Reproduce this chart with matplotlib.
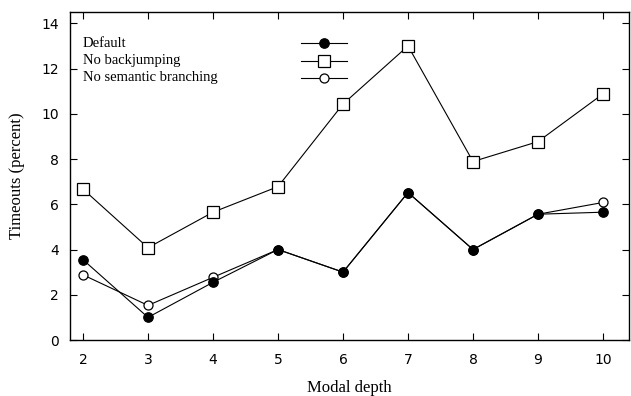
import matplotlib
matplotlib.use("Agg")
import matplotlib.pyplot as plt

depth = [2, 3, 4, 5, 6, 7, 8, 9, 10]
default = [3.55, 1.0, 2.55, 4.0, 3.0, 6.52, 4.0, 5.56, 5.65]
no_backjumping = [6.67, 4.08, 5.65, 6.78, 10.43, 13.0, 7.89, 8.77, 10.88]
no_semantic = [2.88, 1.53, 2.77, 4.0, 3.0, 6.52, 4.0, 5.56, 6.08]
labels = ["Default", "No backjumping", "No semantic branching"]
yticks = [0, 2, 4, 6, 8, 10, 12, 14]

serif = "Liberation Serif"
fig = plt.figure(figsize=(6.31, 3.96), dpi=100)
ax = fig.add_axes([70/631, 56/396, 559/631, 328/396])

styles = [
    dict(marker="o", mfc="black", mec="black", ms=6.8),
    dict(marker="s", mfc="white", mec="black", ms=8.5),
    dict(marker="o", mfc="white", mec="black", ms=6.5),
]
series = [default, no_backjumping, no_semantic]
zorders = [5, 3, 4]
for i in range(3):
    ax.plot(depth, series[i], color="black", lw=0.8, mew=0.9, **styles[i], zorder=zorders[i])

ax.set_xlim(1.8, 10.4)
ax.set_ylim(0, 14.5)
ax.set_xticks(depth)
ax.set_yticks(yticks)
ax.tick_params(direction="in", top=True, right=True, length=5, width=0.8, labelsize=10)
ax.tick_params(axis="x", pad=9)
ax.tick_params(axis="y", pad=8)
for s in ax.spines.values():
    s.set_linewidth(1.0)

ax.set_xlabel("Modal depth", family=serif, fontsize=12, labelpad=10)
ax.set_ylabel("Timeouts (percent)", family=serif, fontsize=12, labelpad=12)

# gnuplot-style key: text left, samples right
for k, (lab, st) in enumerate(zip(labels, styles)):
    yk = 0.905 - k * 0.053
    ax.text(0.023, yk, lab, transform=ax.transAxes, family=serif, fontsize=10.5, va="center", ha="left")
    ax.plot([0.414, 0.496], [yk, yk], transform=ax.transAxes, color="black", lw=0.8,
            clip_on=False)
    ax.plot([0.455], [yk], transform=ax.transAxes, color="black", mew=0.9, clip_on=False,
            linestyle="none", **st)

fig.savefig("out.png", dpi=100)
